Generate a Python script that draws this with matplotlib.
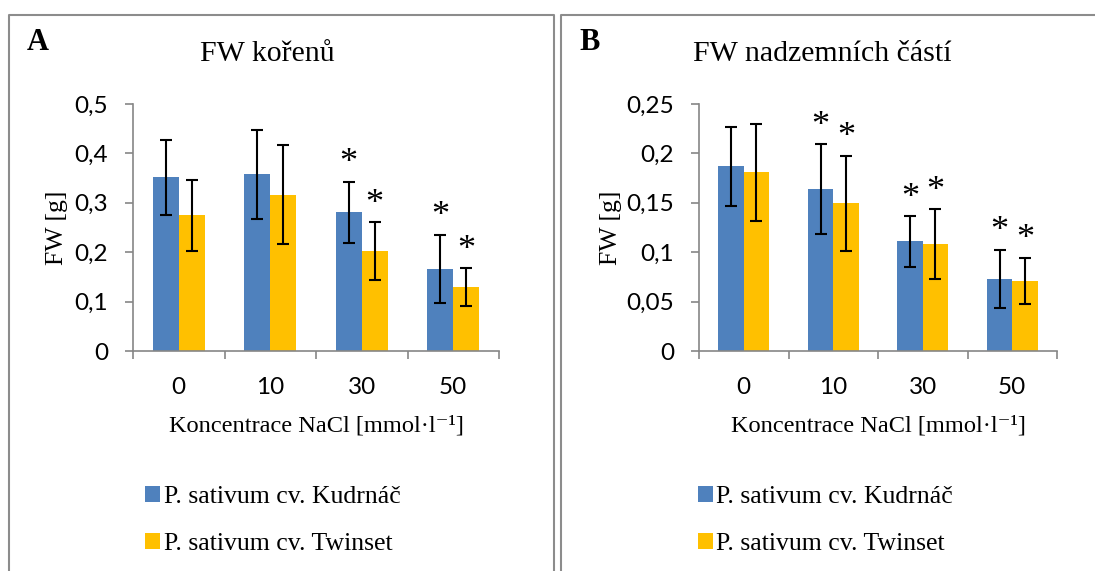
import matplotlib
matplotlib.use("Agg")
import matplotlib.pyplot as plt
from matplotlib.lines import Line2D
from matplotlib.patches import Patch
import numpy as np

# ---- data ----
categories = ["0", "10", "30", "50"]
series_names = ["P. sativum cv. Kudrnáč", "P. sativum cv. Twinset"]

roots_kudrnac = [0.352, 0.358, 0.281, 0.166]
roots_kudrnac_err = [0.076, 0.090, 0.062, 0.069]
roots_twinset = [0.275, 0.316, 0.202, 0.130]
roots_twinset_err = [0.072, 0.100, 0.059, 0.038]
roots_sig_kudrnac = [False, False, True, True]
roots_sig_twinset = [False, False, True, True]

shoots_kudrnac = [0.187, 0.164, 0.111, 0.073]
shoots_kudrnac_err = [0.040, 0.0455, 0.0256, 0.0295]
shoots_twinset = [0.181, 0.1495, 0.108, 0.071]
shoots_twinset_err = [0.049, 0.048, 0.0355, 0.0235]
shoots_sig_kudrnac = [False, True, True, True]
shoots_sig_twinset = [False, True, True, True]

yticks_roots = [0, 0.1, 0.2, 0.3, 0.4, 0.5]
yticklabels_roots = ["0", "0,1", "0,2", "0,3", "0,4", "0,5"]
yticks_shoots = [0, 0.05, 0.1, 0.15, 0.2, 0.25]
yticklabels_shoots = ["0", "0,05", "0,1", "0,15", "0,2", "0,25"]

titles = ["FW kořenů", "FW nadzemních částí"]
panel_letters = ["A", "B"]
ylabel = "FW [g]"
xlabel = "Koncentrace NaCl [mmol·l⁻¹]"

# ---- style ----
W, H = 1095, 571
BLUE = "#4F81BD"
YELLOW = "#FFC000"
AXGREY = "#868686"
FRAME = "#8C8C8C"
SERIF = ["Liberation Serif", "DejaVu Serif"]
SANS = "Lato"

fig = plt.figure(figsize=(W / 100, H / 100), dpi=100)

def fx(px):
    return px / W

def fy(py):
    return 1 - py / H

def draw_panel(ax_rect, k, kerr, t, terr, sigk, sigt, yt, ytl, ymax):
    ax = fig.add_axes(ax_rect)
    x = np.arange(len(categories))
    bw = 0.284
    err_kw = dict(ecolor="black", elinewidth=1.5, capsize=4.5, capthick=1.5)
    ax.bar(x - bw / 2, k, bw, color=BLUE, yerr=kerr, error_kw=err_kw, zorder=2)
    ax.bar(x + bw / 2, t, bw, color=YELLOW, yerr=terr, error_kw=err_kw, zorder=2)
    for xs, vals, errs, sigs in [(x - bw / 2, k, kerr, sigk), (x + bw / 2, t, terr, sigt)]:
        for xi, v, e, s in zip(xs, vals, errs, sigs):
            if s:
                ax.annotate("*", (xi, v + e), xytext=(0, 6.8), textcoords="offset points",
                            ha="center", va="baseline", fontsize=26, family=SERIF)
    ax.set_xlim(-0.5, len(categories) - 0.5)
    ax.set_ylim(0, ymax)
    ax.set_yticks(yt)
    ax.set_yticklabels(ytl, family=SANS, fontsize=17.5)
    ax.set_xticks(np.arange(len(categories) + 1) - 0.5)
    ax.set_xticklabels([])
    ax.set_xticks(x, minor=True)
    ax.set_xticklabels(categories, minor=True, family=SANS, fontsize=17.5)
    ax.tick_params(axis="x", which="major", length=6, width=1.2, color=AXGREY, direction="out")
    ax.tick_params(axis="x", which="minor", length=0, pad=19)
    ax.tick_params(axis="y", length=6, width=1.2, color=AXGREY, direction="out", pad=12)
    for sp in ["top", "right"]:
        ax.spines[sp].set_visible(False)
    for sp in ["left", "bottom"]:
        ax.spines[sp].set_color(AXGREY)
        ax.spines[sp].set_linewidth(1.2)
    ax.set_facecolor("none")
    return ax

# Panel A
axA = draw_panel([fx(133), fy(351), fx(499) - fx(133), fy(104) - fy(351)],
                 roots_kudrnac, roots_kudrnac_err, roots_twinset, roots_twinset_err,
                 roots_sig_kudrnac, roots_sig_twinset, yticks_roots, yticklabels_roots, 0.5)
# Panel B
axB = draw_panel([fx(699), fy(351), fx(1057) - fx(699), fy(104) - fy(351)],
                 shoots_kudrnac, shoots_kudrnac_err, shoots_twinset, shoots_twinset_err,
                 shoots_sig_kudrnac, shoots_sig_twinset, yticks_shoots, yticklabels_shoots, 0.25)

# axis labels, titles, legends
for i, (cx_title, letter_x, ylx, xlx, legx) in enumerate([
    (267, 38, 57, 316, 145),
    (822, 590, 611, 878, 698),
]):
    fig.text(fx(cx_title), fy(54), titles[i], ha="center", va="center", family=SERIF, fontsize=21.5)
    fig.text(fx(letter_x), fy(43), panel_letters[i],
             ha="center", va="center", family=SERIF, fontsize=22, fontweight="bold")
    fig.text(fx(ylx), fy(228), ylabel, ha="center", va="center", rotation=90,
             family=SERIF, fontsize=18.5)
    fig.text(fx(xlx), fy(426), xlabel, ha="center", va="center", family=SERIF, fontsize=17.6)
    handles = [Patch(facecolor=BLUE), Patch(facecolor=YELLOW)]
    fig.legend(handles, series_names, loc="upper left",
               bbox_to_anchor=(fx(legx), fy(486)), frameon=False,
               prop={"family": SERIF, "size": 18.5}, handlelength=0.6, handleheight=0.6,
               handletextpad=0.12, labelspacing=0.95, borderpad=0, borderaxespad=0)

# panel frames
lw = 1.5
fig.add_artist(Line2D([fx(8.5), fx(8.5), fx(554), fx(554)], [0, fy(14.5), fy(14.5), 0],
                      color=FRAME, lw=lw))
fig.add_artist(Line2D([fx(561), fx(561), 1.0], [0, fy(14.5), fy(14.5)],
                      color=FRAME, lw=lw))

fig.savefig("out.png", dpi=100)
